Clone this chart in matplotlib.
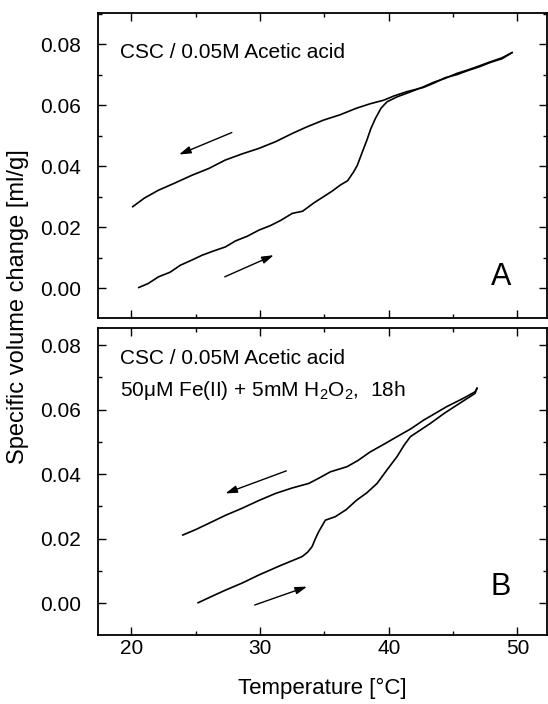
import numpy as np
import matplotlib
matplotlib.use("Agg")
import matplotlib.pyplot as plt
from matplotlib.ticker import MultipleLocator, FormatStrFormatter

plt.rcParams['font.family'] = ['Liberation Sans', 'DejaVu Sans']
plt.rcParams['mathtext.fontset'] = 'custom'
plt.rcParams['mathtext.rm'] = 'Liberation Sans'
plt.rcParams['mathtext.default'] = 'regular'

### panel A : untreated CSC
a_heat_T = [20.57, 21.3, 22.1, 23.0, 23.8, 24.7, 25.5, 26.4, 27.3, 28.1, 29.0, 29.9,
            30.8, 31.6, 32.5, 33.3, 34.2, 34.94, 35.6, 36.24, 36.8, 37.27, 37.55, 37.8,
            38.05, 38.3, 38.6, 38.96, 39.4, 39.87, 40.64, 41.6, 42.7, 43.5, 44.4, 45.3,
            46.2, 47.0, 47.9, 48.8, 49.58]
a_heat_V = [0.0002, 0.0015, 0.0037, 0.0052, 0.0075, 0.0092, 0.0108, 0.0122, 0.0135, 0.0155, 0.0170, 0.0190,
            0.0205, 0.0222, 0.0245, 0.0252, 0.0280, 0.0300, 0.0318, 0.0338, 0.0352, 0.0381, 0.0402, 0.0430,
            0.0458, 0.0485, 0.0522, 0.0556, 0.0590, 0.0611, 0.0627, 0.0642, 0.0660, 0.0675, 0.0688, 0.0704,
            0.0716, 0.0728, 0.0742, 0.0755, 0.0772]

a_cool_T = [49.58, 48.8, 47.9, 47.0, 46.2, 45.3, 44.4, 43.5, 42.7, 41.4, 40.4, 39.6,
            38.6, 37.5, 36.2, 34.94, 33.6, 32.5, 31.2, 29.9, 28.6, 27.3, 26.0, 24.7,
            23.4, 22.1, 21.0, 20.1]
a_cool_V = [0.0772, 0.0752, 0.0740, 0.0725, 0.0714, 0.0700, 0.0690, 0.0672, 0.0658, 0.0644, 0.0630, 0.0616,
            0.0605, 0.0590, 0.0568, 0.0551, 0.0528, 0.0507, 0.0480, 0.0458, 0.0440, 0.0420, 0.0392, 0.0370,
            0.0345, 0.0321, 0.0295, 0.0267]

### panel B : 50uM Fe(II) + 5mM H2O2, 18h
b_heat_T = [25.18, 26.2, 27.3, 28.6, 29.9, 31.5, 33.26, 33.7, 34.04, 34.3, 34.55, 35.07,
            35.85, 36.7, 37.5, 38.3, 39.09, 39.9, 40.64, 41.2, 41.68, 42.4, 43.23, 44.3,
            45.3, 46.0, 46.7, 46.86]
b_heat_V = [0.0001, 0.0020, 0.0040, 0.0062, 0.0087, 0.0115, 0.0144, 0.0158, 0.0175, 0.0200, 0.0221, 0.0257,
            0.0268, 0.0290, 0.0319, 0.0342, 0.0371, 0.0415, 0.0454, 0.0490, 0.0516, 0.0535, 0.0557, 0.0588,
            0.0614, 0.0632, 0.0650, 0.0666]

b_cool_T = [46.86, 46.7, 45.8, 44.5, 43.6, 42.7, 41.7, 40.64, 39.6, 38.57, 37.6, 36.76,
            35.46, 34.6, 33.78, 32.5, 31.2, 29.9, 28.6, 27.3, 26.0, 25.0, 23.99]
b_cool_V = [0.0666, 0.0655, 0.0635, 0.0609, 0.0588, 0.0567, 0.0540, 0.0516, 0.0492, 0.0469, 0.0442, 0.0423,
            0.0407, 0.0388, 0.0371, 0.0357, 0.0340, 0.0318, 0.0294, 0.0272, 0.0247, 0.0228, 0.0211]

### 箭頭 (tail T, tail V, head T, head V)
a_arrows = [(27.8, 0.0510, 23.7, 0.0438), (27.25, 0.0037, 31.06, 0.0108)]
b_arrows = [(32.04, 0.0410, 27.3, 0.0340), (29.58, -0.0006, 33.65, 0.0051)]

fig = plt.figure(figsize=(5.48, 7.04), dpi=100)
ax1 = fig.add_axes([98/548, 1-318/704, 449/548, 305/704])
ax2 = fig.add_axes([98/548, 1-635/704, 449/548, 307/704])

def style(ax, ylim):
    ax.set_xlim(17.4, 52.3)
    ax.set_ylim(*ylim)
    ax.xaxis.set_major_locator(MultipleLocator(10))
    ax.xaxis.set_minor_locator(MultipleLocator(5))
    ax.yaxis.set_major_locator(MultipleLocator(0.02))
    ax.yaxis.set_minor_locator(MultipleLocator(0.01))
    ax.yaxis.set_major_formatter(FormatStrFormatter('%.2f'))
    ax.tick_params(which='both', direction='in', top=True, right=True, width=1.0)
    ax.tick_params(which='major', length=6, labelsize=15, pad=12)
    ax.tick_params(which='minor', length=3)
    ax.tick_params(axis='x', which='major', pad=3)
    for s in ax.spines.values():
        s.set_linewidth(1.3)

for ax, heat_T, heat_V, cool_T, cool_V, arrows in [
        (ax1, a_heat_T, a_heat_V, a_cool_T, a_cool_V, a_arrows),
        (ax2, b_heat_T, b_heat_V, b_cool_T, b_cool_V, b_arrows)]:
    ax.plot(heat_T, heat_V, color='black', lw=1.2)
    ax.plot(cool_T, cool_V, color='black', lw=1.2)
    for t0, v0, t1, v1 in arrows:
        ax.annotate('', xy=(t1, v1), xytext=(t0, v0),
                    arrowprops=dict(arrowstyle='-|>,head_length=0.7,head_width=0.22',
                                    color='black', lw=1.0, shrinkA=0, shrinkB=0))

style(ax1, (-0.0098, 0.0902))
style(ax2, (-0.0099, 0.0853))
ax1.tick_params(labelbottom=False)

ax1.text(0.05, 0.87, 'CSC / 0.05M Acetic acid', transform=ax1.transAxes, fontsize=15, va='center')
ax1.text(48.7, 0.0036, 'A', fontsize=22, ha='center', va='center')

ax2.text(0.05, 0.90, 'CSC / 0.05M Acetic acid', transform=ax2.transAxes, fontsize=15, va='center')
ax2.text(0.05, 0.795, r'50μM Fe(II) + 5mM H$_2$O$_2$,  18h', transform=ax2.transAxes,
         fontsize=15, va='center')
ax2.text(48.7, 0.0050, 'B', fontsize=22, ha='center', va='center')

ax2.set_xlabel('Temperature [°C]', fontsize=16, labelpad=14)
fig.text(18/548, 1-307/704, 'Specific volume change [ml/g]', rotation=90,
         fontsize=17, ha='center', va='center')

plt.savefig('out.png', dpi=100)
